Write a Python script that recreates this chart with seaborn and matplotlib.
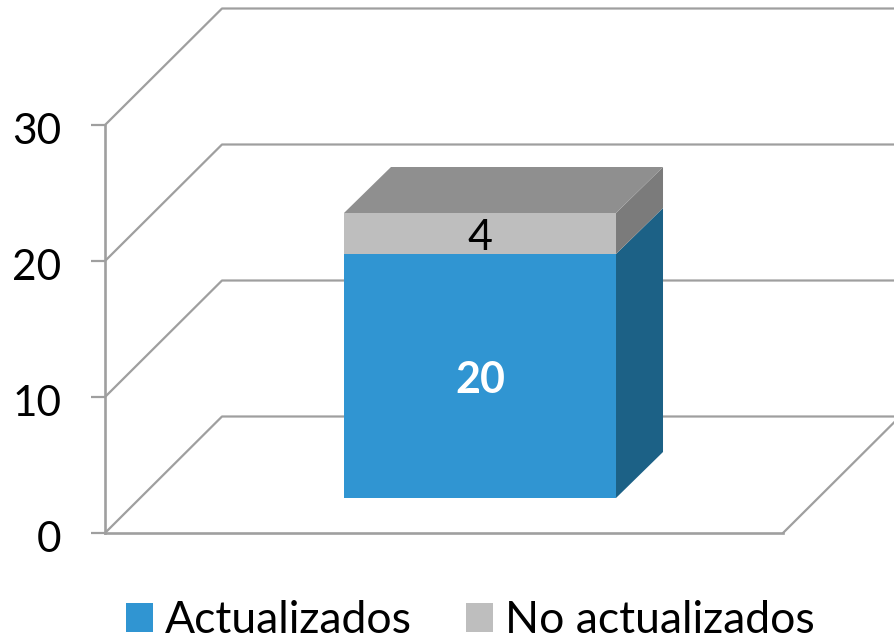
import numpy as np
import seaborn as sns
import matplotlib.pyplot as plt
from matplotlib.patches import Polygon
from matplotlib.transforms import IdentityTransform, ScaledTranslation

# data
categories = [""]
actualizados = [20]
no_actualizados = [4]
y_ticks = [0, 10, 20, 30]
series_labels = ["Actualizados", "No actualizados"]

W, H = 894, 638
GRAY = "#9f9f9f"

sns.set_theme(style="white")
plt.rcParams["font.family"] = ["Lato", "DejaVu Sans"]

fig = plt.figure(figsize=(W / 100, H / 100), dpi=100)
pixels = IdentityTransform()

# front plane of the fake 3d box
ax = fig.add_axes([105 / W, (H - 533) / H, 678 / W, 408 / H])
ax.set_ylim(0, 30)
ax.set_xlim(0, 1)
ax.set_yticks(y_ticks)
ax.set_xticks([])
ax.tick_params(axis="y", length=10, width=1.6, color=GRAY, labelsize=30.5,
               labelcolor="black", pad=21.5, left=True)
sns.despine(ax=ax)
for side in ["left", "bottom"]:
    ax.spines[side].set_color(GRAY)
    ax.spines[side].set_linewidth(1.9)

# tick labels sit a little below their ticks
label_shift = ScaledTranslation(0, -4 / 100, fig.dpi_scale_trans)
for label in ax.get_yticklabels():
    label.set_transform(label.get_transform() + label_shift)

# side wall and back wall lines, one set per tick
depth_x, depth_y = 117, 116.5
x0, x1 = 105, 783
for v in y_ticks:
    y = ax.transData.transform((0, v))[1]
    ax.plot([x0, x0 + depth_x, x1 + depth_x], [y, y + depth_y, y + depth_y],
            color=GRAY, lw=1.6, transform=pixels, clip_on=False)
y = ax.transData.transform((0, 0))[1]
ax.plot([x1, x1 + depth_x], [y, y + depth_y], color=GRAY, lw=1.6,
        transform=pixels, clip_on=False)

# bars sit part way into the box, heights follow the picture
ax_bar = fig.add_axes([141 / W, (H - 498) / H, 678 / W, 408 / H], zorder=3)
sns.barplot(x=categories, y=actualizados, color="#3095d2", saturation=1,
            width=0.4012, errorbar=None, ax=ax_bar)
sns.barplot(x=categories, y=no_actualizados, bottom=actualizados,
            color="#bebebe", saturation=1, width=0.4012, errorbar=None, ax=ax_bar)
knots = [0, 20, 24, 30]
heights = [0, 244, 285, 408]
ax_bar.set_yscale("function", functions=(lambda v: np.interp(v, knots, heights),
                                         lambda p: np.interp(p, heights, knots)))
ax_bar.set_ylim(0, 30)
ax_bar.set_xlim(-0.5, 0.5)
ax_bar.set_axis_off()

blue_bar = ax_bar.containers[0][0]
gray_bar = ax_bar.containers[1][0]
for c in ax_bar.containers:
    for bar in c:
        bar.set_edgecolor("none")
        bar.set_linewidth(0)

# top and side faces, worked out from the drawn bars
bar_dx, bar_dy = 47, 46
fig.canvas.draw()
blue_box = blue_bar.get_window_extent()
gray_box = gray_bar.get_window_extent()


def side_face(box, color):
    pts = [(box.x1, box.y0), (box.x1 + bar_dx, box.y0 + bar_dy),
           (box.x1 + bar_dx, box.y1 + bar_dy), (box.x1, box.y1)]
    ax_bar.add_patch(Polygon(pts, closed=True, facecolor=color, edgecolor="none",
                             transform=pixels, clip_on=False))


side_face(blue_box, "#1c6186")
side_face(gray_box, "#7b7b7b")
ax_bar.add_patch(Polygon([(gray_box.x0, gray_box.y1), (gray_box.x1, gray_box.y1),
                          (gray_box.x1 + bar_dx, gray_box.y1 + bar_dy),
                          (gray_box.x0 + bar_dx, gray_box.y1 + bar_dy)],
                         closed=True, facecolor="#8f8f8f", edgecolor="none",
                         transform=pixels, clip_on=False))

labels = ax_bar.bar_label(ax_bar.containers[0], label_type="center", color="white",
                          fontsize=31, fontweight="bold")
labels += ax_bar.bar_label(ax_bar.containers[1], label_type="center", color="black",
                           fontsize=31)
for t in labels:
    t.xyann = (0, -3)

fig.legend([blue_bar, gray_bar], series_labels, loc="lower left",
           bbox_to_anchor=(126 / W, -3 / H), ncols=2, frameon=False, fontsize=32,
           labelcolor="black", handlelength=0.61, handleheight=0.61,
           handletextpad=0.26, columnspacing=1.22, borderaxespad=0, borderpad=0)

plt.savefig("out.png", dpi=100)
